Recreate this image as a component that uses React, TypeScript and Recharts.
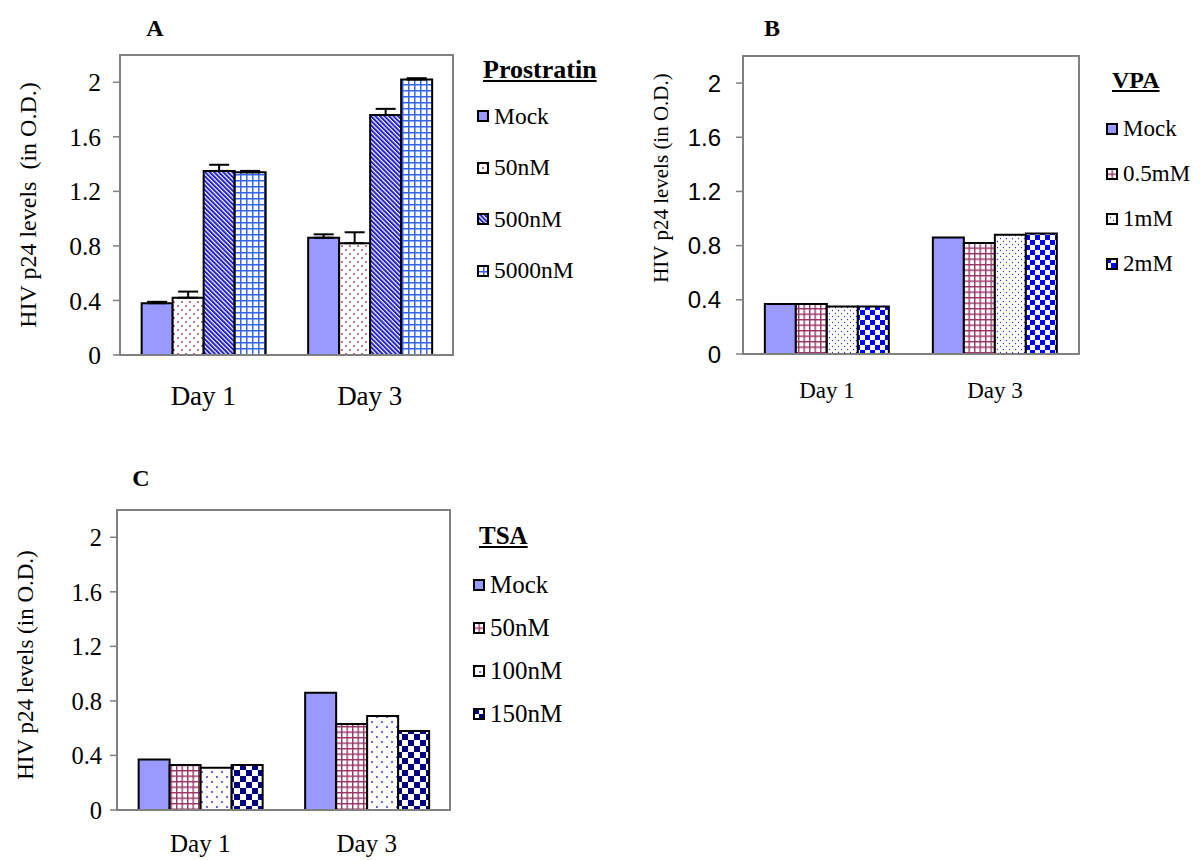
import React from 'react';
import { BarChart, Bar, XAxis, YAxis, ErrorBar, Legend, ReferenceArea } from 'recharts';

const serif = '"Liberation Serif", "Times New Roman", serif';
const sans = '"Liberation Sans", Arial, sans-serif';

const days = ['Day 1', 'Day 3'];
const yTicks = [0, 0.4, 0.8, 1.2, 1.6, 2];

// A - Prostratin
const prostratinNames = ['Mock', '50nM', '500nM', '5000nM'];
const prostratinMock = [0.38, 0.86];
const prostratin50 = [0.42, 0.82];
const prostratin500 = [1.35, 1.76];
const prostratin5000 = [1.34, 2.02];
const prostratinMockErr = [0.01, 0.025];
const prostratin50Err = [0.045, 0.08];
const prostratin500Err = [0.045, 0.045];
const prostratin5000Err = [0.01, 0.01];

// B - VPA
const vpaNames = ['Mock', '0.5mM', '1mM', '2mM'];
const vpaMock = [0.37, 0.86];
const vpa05 = [0.37, 0.82];
const vpa1 = [0.35, 0.88];
const vpa2 = [0.35, 0.89];

// C - TSA
const tsaNames = ['Mock', '50nM', '100nM', '150nM'];
const tsaMock = [0.37, 0.86];
const tsa50 = [0.33, 0.63];
const tsa100 = [0.31, 0.69];
const tsa150 = [0.33, 0.58];

function makeRows(series: number[][], errs?: number[][]) {
  return days.map((day, i) => {
    const row: any = { day };
    series.forEach((s, k) => {
      row['s' + k] = s[i];
      if (errs) row['e' + k] = [0, errs[k][i]];
    });
    return row;
  });
}

const rowsA = makeRows([prostratinMock, prostratin50, prostratin500, prostratin5000],
  [prostratinMockErr, prostratin50Err, prostratin500Err, prostratin5000Err]);
const rowsB = makeRows([vpaMock, vpa05, vpa1, vpa2]);
const rowsC = makeRows([tsaMock, tsa50, tsa100, tsa150]);

function Patterns() {
  return (
    <defs>
      <pattern id="pA_dots" width={8} height={8} patternUnits="userSpaceOnUse">
        <rect width={8} height={8} fill="#fff" />
        <circle cx={2} cy={2} r={0.9} fill="#993366" />
        <circle cx={6} cy={6} r={0.9} fill="#993366" />
      </pattern>
      <pattern id="pA_diag" width={3.2} height={3.2} patternUnits="userSpaceOnUse" patternTransform="rotate(-45)">
        <rect width={3.2} height={3.2} fill="#fff" />
        <rect width={2} height={3.2} fill="#2020cc" />
      </pattern>
      <pattern id="pA_grid" width={6} height={6} patternUnits="userSpaceOnUse">
        <rect width={6} height={6} fill="#fff" />
        <rect width={6} height={1.5} fill="#3366ee" />
        <rect width={1.5} height={6} fill="#3366ee" />
      </pattern>
      <pattern id="pB_grid" width={5.5} height={5.5} patternUnits="userSpaceOnUse">
        <rect width={5.5} height={5.5} fill="#fff" />
        <rect width={5.5} height={1.4} fill="#993366" />
        <rect width={1.4} height={5.5} fill="#993366" />
      </pattern>
      <pattern id="pB_dots" width={6} height={6} patternUnits="userSpaceOnUse">
        <rect width={6} height={6} fill="#fff" />
        <circle cx={1.5} cy={1.5} r={0.65} fill="#3333cc" />
        <circle cx={4.5} cy={4.5} r={0.65} fill="#3333cc" />
      </pattern>
      <pattern id="pB_check" width={10} height={10} patternUnits="userSpaceOnUse">
        <rect width={10} height={10} fill="#fff" />
        <rect width={5} height={5} fill="#0000ff" />
        <rect x={5} y={5} width={5} height={5} fill="#0000ff" />
      </pattern>
      <pattern id="pC_grid" width={5.5} height={5.5} patternUnits="userSpaceOnUse">
        <rect width={5.5} height={5.5} fill="#fff" />
        <rect width={5.5} height={1.4} fill="#993366" />
        <rect width={1.4} height={5.5} fill="#993366" />
      </pattern>
      <pattern id="pC_dots" width={10} height={10} patternUnits="userSpaceOnUse">
        <rect width={10} height={10} fill="#fff" />
        <circle cx={2} cy={2} r={0.9} fill="#2222cc" />
        <circle cx={7} cy={7} r={0.9} fill="#2222cc" />
      </pattern>
      <pattern id="pC_check" width={12} height={12} patternUnits="userSpaceOnUse">
        <rect width={12} height={12} fill="#fff" />
        <rect width={6} height={6} fill="#000080" />
        <rect x={6} y={6} width={6} height={6} fill="#000080" />
      </pattern>
    </defs>
  );
}

const fillsA = ['#9999ff', 'url(#pA_dots)', 'url(#pA_diag)', 'url(#pA_grid)'];
const fillsB = ['#9999ff', 'url(#pB_grid)', 'url(#pB_dots)', 'url(#pB_check)'];
const fillsC = ['#9999ff', 'url(#pC_grid)', 'url(#pC_dots)', 'url(#pC_check)'];

function YLabel(props: any) {
  const { text, lx, ly, size } = props;
  return (
    <text x={lx} y={ly} transform={`rotate(-90 ${lx} ${ly})`} textAnchor="middle"
      dominantBaseline="central" fontSize={size} fontFamily={serif} fill="#000" style={{ whiteSpace: 'pre' }}>
      {text}
    </text>
  );
}

function PanelLegend({ title, names, fills, firstGap, rowGap, titleSize, itemSize }: any) {
  return (
    <div style={{ fontFamily: serif, color: '#000', textAlign: 'left' }}>
      <div style={{ height: 28, lineHeight: '28px', paddingLeft: 6, fontWeight: 'bold', fontSize: titleSize, textDecoration: 'underline' }}>{title}</div>
      <div style={{ marginTop: firstGap }}>
        {names.map((n: string, i: number) => (
          <div key={n} style={{ height: rowGap, display: 'flex', alignItems: 'center', fontSize: itemSize }}>
            <svg width={12} height={12} style={{ marginRight: 5 }}>
              <rect x={1} y={1} width={10} height={10} fill={fills[i]} stroke="#000" strokeWidth={2} />
            </svg>
            <span>{n}</span>
          </div>
        ))}
      </div>
    </div>
  );
}

function Panel(p: any) {
  return (
    <div style={{ position: 'absolute', left: p.left, top: p.top, width: p.width, height: p.height }}>
      <div style={{ position: 'absolute', left: p.letterX - 20, top: p.letterY - 14, width: 40, lineHeight: '28px', textAlign: 'center', fontWeight: 'bold', fontSize: 24, fontFamily: serif }}>{p.letter}</div>
      <BarChart width={p.width} height={p.height} data={p.rows} margin={p.margin} barCategoryGap="13%" barGap={0}>
        <Patterns />
        <XAxis dataKey="day" height={p.xAxisHeight} tickLine={false} tickSize={0} tickMargin={p.dayMargin}
          axisLine={{ stroke: '#808080', strokeWidth: 2 }}
          tick={{ fill: '#000', fontSize: p.dayFont, fontFamily: serif }} />
        <YAxis width={p.yAxisWidth} domain={[0, 2.2]} ticks={yTicks} tickSize={7} tickMargin={p.tickMargin}
          tickFormatter={(v: number) => String(v)}
          axisLine={{ stroke: '#808080', strokeWidth: 2 }} tickLine={{ stroke: '#808080', strokeWidth: 1.5 }}
          tick={{ fill: '#000', fontSize: p.tickFont, fontFamily: p.tickFamily }}
          label={<YLabel text={p.yLabel} lx={p.yLabelX} ly={p.yLabelY} size={p.yLabelSize} />} />
        <ReferenceArea y1={0} y2={2.2} fill="none" stroke="#808080" strokeWidth={2} />
        {p.names.map((n: string, k: number) => (
          <Bar key={n} dataKey={'s' + k} name={n} fill={p.fills[k]} stroke="#000" strokeWidth={2} isAnimationActive={false}>
            {p.hasErr && <ErrorBar dataKey={'e' + k} direction="y" width={10} stroke="#000" strokeWidth={2} />}
          </Bar>
        ))}
        <Legend layout="vertical" align="center" verticalAlign="middle"
          wrapperStyle={{ left: p.legendLeft, top: p.legendTop, width: 150 }}
          content={() => <PanelLegend title={p.title} names={p.names} fills={p.fills} firstGap={p.firstGap}
            rowGap={p.rowGap} titleSize={p.titleSize} itemSize={p.itemSize} />} />
      </BarChart>
    </div>
  );
}

export default function App() {
  return (
    <div style={{ position: 'absolute', left: 0, top: 0, width: 1200, height: 860, background: '#fff', fontFamily: serif }}>
      <Panel left={0} top={0} width={620} height={420} rows={rowsA} names={prostratinNames} fills={fillsA} hasErr
        margin={{ top: 55, right: 167, bottom: 5, left: 20 }} yAxisWidth={100} xAxisHeight={60}
        letter="A" letterX={155} letterY={28} title="Prostratin" titleSize={26} itemSize={23.5}
        yLabel="HIV p24 levels  (in O.D.)" yLabelX={28} yLabelY={205} yLabelSize={24}
        tickFont={25.5} tickFamily={serif} tickMargin={12} dayFont={27} dayMargin={31}
        legendLeft={477} legendTop={56} firstGap={6.5} rowGap={51.5} />
      <Panel left={600} top={0} width={600} height={420} rows={rowsB} names={vpaNames} fills={fillsB}
        margin={{ top: 56, right: 121, bottom: 6, left: 43 }} yAxisWidth={100} xAxisHeight={60}
        letter="B" letterX={172} letterY={28} title="VPA" titleSize={24} itemSize={23}
        yLabel="HIV p24 levels (in O.D.)" yLabelX={61} yLabelY={178} yLabelSize={21}
        tickFont={24} tickFamily={sans} tickMargin={15} dayFont={23} dayMargin={28}
        legendLeft={506} legendTop={66} firstGap={12.5} rowGap={45} />
      <Panel left={0} top={440} width={620} height={420} rows={rowsC} names={tsaNames} fills={fillsC}
        margin={{ top: 70, right: 170, bottom: 5, left: 17 }} yAxisWidth={100} xAxisHeight={45}
        letter="C" letterX={141} letterY={38} title="TSA" titleSize={25} itemSize={25}
        yLabel="HIV p24 levels (in O.D.)" yLabelX={25} yLabelY={225} yLabelSize={23}
        tickFont={24.5} tickFamily={serif} tickMargin={8} dayFont={25} dayMargin={24}
        legendLeft={473} legendTop={82} firstGap={13.5} rowGap={43} />
    </div>
  );
}
